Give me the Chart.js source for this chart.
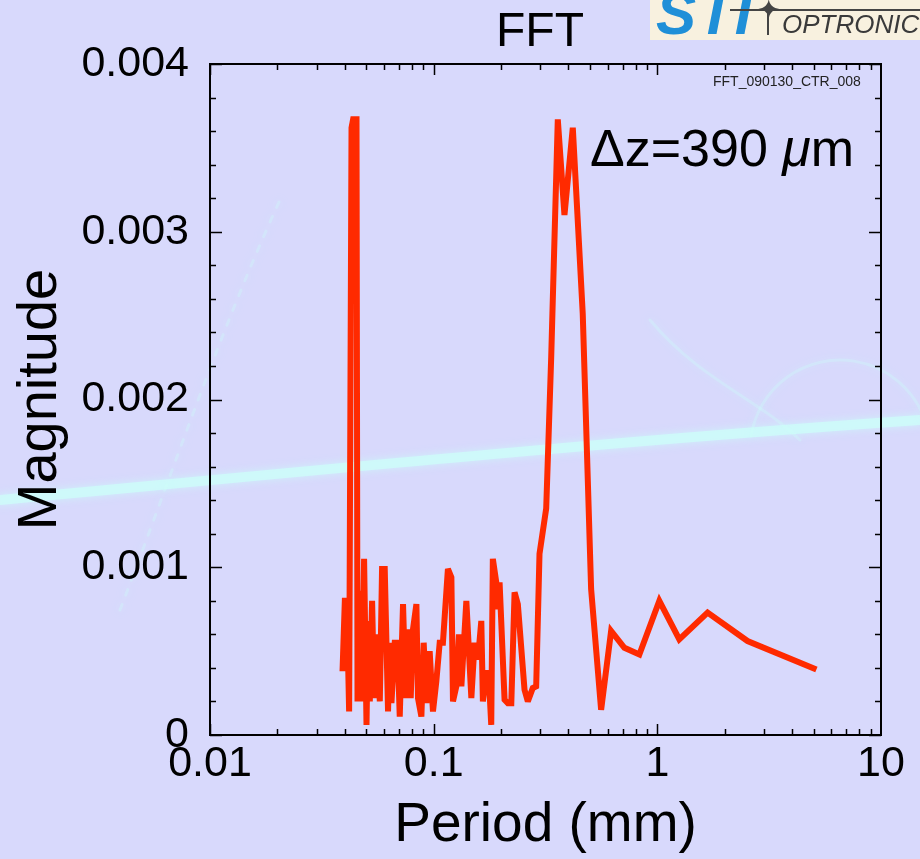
<!DOCTYPE html>
<html>
<head>
<meta charset="utf-8">
<script src="https://cdn.jsdelivr.net/npm/chart.js@4.4.1/dist/chart.umd.min.js"></script>
<style>
  html, body { margin: 0; padding: 0; background: #d8d9fc; overflow: hidden; }
  #wrap { position: relative; width: 920px; height: 859px; font-family: "Liberation Sans", Arial, Helvetica, sans-serif; }
  #chart { position: absolute; left: 0; top: 0; }
  .txt { position: absolute; white-space: nowrap; color: #000; }
  #title { left: 440px; width: 200px; text-align: center; top: 6px; font-size: 48px; line-height: 48px; }
  #dz { left: 590px; top: 122px; font-size: 52px; line-height: 52px; }
  #fname { left: 713px; top: 74px; font-size: 14px; line-height: 14px; color: #222; }
  #logo { position: absolute; left: 650px; top: 0; width: 270px; height: 40px; background: #f8f1df; overflow: hidden; }
  #logo .sti { position: absolute; left: 6px; top: -16px; font-size: 60px; line-height: 60px; font-weight: bold; font-style: italic; color: #1f8fd8; letter-spacing: 1px; }
  #logo .bar { position: absolute; left: 80px; top: 9px; width: 200px; height: 2px; background: #444; }
  #logo .stem { position: absolute; left: 117px; top: 10px; width: 2px; height: 25px; background: #444; }
  #logo .star { position: absolute; left: 107px; top: -4px; font-family: "DejaVu Sans", sans-serif; font-size: 28px; line-height: 28px; color: #444; }
  #logo .opt { position: absolute; left: 132px; top: 11px; font-size: 26px; line-height: 26px; font-style: italic; color: #3a3a3a; }
</style>
</head>
<body>
<div id="wrap">
  <canvas id="chart" width="920" height="859"></canvas>
  <div class="txt" id="title">FFT</div>
  <div class="txt" id="dz">Δz=390 <i>μ</i>m</div>
  <div class="txt" id="fname">FFT_090130_CTR_008</div>
  <div id="logo"><span class="sti">STI</span><span class="bar"></span><span class="stem"></span><span class="star">✦</span><span class="opt">OPTRONIC</span></div>
</div>
<script>
// period in mm, magnitude
const periods = [0.03913, 0.04007, 0.04090, 0.04188, 0.04293, 0.04364, 0.04519, 0.04566, 0.04675, 0.04773,
  0.04886, 0.05009, 0.05092, 0.05182, 0.05306, 0.05416, 0.05553, 0.05744, 0.05878, 0.06043,
  0.06252, 0.06363, 0.06475, 0.06698, 0.06886, 0.07052, 0.07295, 0.07499, 0.07679, 0.07895,
  0.08084, 0.08372, 0.08511, 0.08812, 0.09024, 0.09279, 0.09597, 0.09929, 0.1028, 0.1064,
  0.1100, 0.1158, 0.1200, 0.1220, 0.1263, 0.1297, 0.1330, 0.1400, 0.1474, 0.1524,
  0.1577, 0.1633, 0.1660, 0.1719, 0.1760, 0.1809, 0.1839, 0.1905, 0.1937, 0.1971,
  0.2075, 0.2147, 0.2224, 0.2300, 0.2379, 0.2548, 0.2636, 0.2775, 0.2873, 0.2973,
  0.3185, 0.3353, 0.3589, 0.3844, 0.4188, 0.4640, 0.5058, 0.5606, 0.6214, 0.7125,
  0.8311, 1.0207, 1.2536, 1.6777, 2.5310, 5.1428];
const magnitudes = [0.00038, 0.0008, 0.0008, 0.00014, 0.00362, 0.00367, 0.00367, 0.0002, 0.00086, 0.0002,
  0.00105, 0.00006, 0.00068, 0.0002, 0.0008, 0.00022, 0.0006, 0.0002, 0.00099, 0.00099,
  0.00014, 0.00055, 0.00019, 0.00055, 0.00055, 0.00011, 0.00078, 0.00022, 0.00063, 0.00022,
  0.00063, 0.00078, 0.00022, 0.00011, 0.00055, 0.00019, 0.0005, 0.00014, 0.00032, 0.00055,
  0.00055, 0.00099, 0.00094, 0.0002, 0.00029, 0.0006, 0.00029, 0.0008, 0.00022, 0.00055,
  0.00045, 0.00068, 0.0002, 0.00037, 0.00037, 0.00006, 0.00105, 0.00091, 0.00075, 0.00091,
  0.00021, 0.00019, 0.00019, 0.00085, 0.00078, 0.00027, 0.0002, 0.00028, 0.00029, 0.00108,
  0.00135, 0.00225, 0.00367, 0.0031, 0.00362, 0.00251, 0.00087, 0.00015, 0.00062, 0.00052,
  0.00048, 0.0008, 0.00057, 0.00073, 0.00056, 0.00039];
const xTicks = [0.01, 0.1, 1, 10];
const yTicks = [0, 0.001, 0.002, 0.003, 0.004];
const yMinorStep = 0.0002;

const FONT = '"Liberation Sans", Arial, Helvetica, sans-serif';

// faint cyan streaks of the photo behind the plot
const backdrop = {
  id: 'backdrop',
  beforeDraw(chart) {
    const ctx = chart.ctx;
    ctx.save();
    ctx.fillStyle = '#d8d9fc';
    ctx.fillRect(0, 0, chart.width, chart.height);
    ctx.lineCap = 'round';
    ctx.shadowColor = 'rgba(200,255,250,0.9)';
    ctx.shadowBlur = 8;
    ctx.strokeStyle = 'rgba(205,255,250,0.7)';
    ctx.lineWidth = 10;
    ctx.beginPath();
    ctx.moveTo(0, 500);
    ctx.bezierCurveTo(300, 472, 600, 442, 920, 420);
    ctx.stroke();
    ctx.lineWidth = 3;
    ctx.strokeStyle = 'rgba(205,255,250,0.3)';
    ctx.setLineDash([6, 10]);
    ctx.beginPath();
    ctx.moveTo(120, 610);
    ctx.bezierCurveTo(170, 480, 220, 330, 280, 200);
    ctx.stroke();
    ctx.setLineDash([]);
    ctx.beginPath();
    ctx.arc(840, 450, 90, Math.PI * 1.05, Math.PI * 1.9);
    ctx.stroke();
    ctx.beginPath();
    ctx.moveTo(650, 320);
    ctx.bezierCurveTo(700, 380, 760, 400, 800, 440);
    ctx.stroke();
    ctx.restore();
  }
};

// sharp but bounded corners on the trace
const joinLimit = {
  id: 'joinLimit',
  beforeDatasetsDraw(chart) { chart.ctx.miterLimit = 3; }
};

// closed frame with inward ticks on all four sides
const frameTicks = {
  id: 'frameTicks',
  afterDraw(chart) {
    const { ctx, chartArea: a, scales: { x, y } } = chart;
    ctx.save();
    ctx.strokeStyle = '#000';
    ctx.lineWidth = 2;
    ctx.strokeRect(a.left, a.top, a.right - a.left, a.bottom - a.top);
    ctx.lineWidth = 1.5;
    ctx.beginPath();
    const e0 = Math.round(Math.log10(x.min)), e1 = Math.round(Math.log10(x.max));
    for (let e = e0; e < e1; e++) {
      for (let m = 1; m < 10; m++) {
        const px = Math.round(x.getPixelForValue(m * Math.pow(10, e))) + 0.5;
        const len = m === 1 ? 11 : 6;
        ctx.moveTo(px, a.bottom); ctx.lineTo(px, a.bottom - len);
        ctx.moveTo(px, a.top); ctx.lineTo(px, a.top + len);
      }
    }
    const n = Math.round((y.max - y.min) / yMinorStep);
    for (let i = 0; i <= n; i++) {
      const py = Math.round(y.getPixelForValue(y.min + i * yMinorStep)) + 0.5;
      const len = i % 5 === 0 ? 12 : 6;
      ctx.moveTo(a.left, py); ctx.lineTo(a.left + len, py);
      ctx.moveTo(a.right, py); ctx.lineTo(a.right - len, py);
    }
    ctx.stroke();
    ctx.restore();
  }
};

new Chart(document.getElementById('chart'), {
  type: 'line',
  data: {
    datasets: [{
      data: periods.map((p, i) => ({ x: p, y: magnitudes[i] })),
      borderColor: '#ff2a00',
      borderWidth: 6,
      borderJoinStyle: 'miter',
      pointRadius: 0,
      tension: 0,
      fill: false
    }]
  },
  options: {
    responsive: false,
    animation: false,
    events: [],
    layout: { padding: { top: 64, right: 39, left: 0, bottom: 0 } },
    plugins: { legend: { display: false }, tooltip: { enabled: false }, title: { display: false } },
    scales: {
      x: {
        type: 'logarithmic',
        min: 0.01, max: 10,
        afterBuildTicks: s => { s.ticks = xTicks.map(v => ({ value: v })); },
        afterFit: s => { s.height = 124; },
        grid: { display: false, drawTicks: false },
        border: { display: false },
        ticks: {
          autoSkip: false, maxRotation: 0, padding: 3, color: '#000',
          font: { family: FONT, size: 43 },
          callback: v => String(v)
        },
        title: { display: true, text: 'Period (mm)', color: '#000', font: { family: FONT, size: 55 }, padding: { top: 0, bottom: 0 } }
      },
      y: {
        min: 0, max: 0.004,
        afterBuildTicks: s => { s.ticks = yTicks.map(v => ({ value: v })); },
        afterFit: s => { s.width = 210; },
        grid: { display: false, drawTicks: false },
        border: { display: false },
        ticks: {
          padding: 21, color: '#000',
          font: { family: FONT, size: 43 },
          callback: v => (v === 0 ? '0' : v.toFixed(3))
        },
        title: { display: true, text: 'Magnitude', color: '#000', font: { family: FONT, size: 56 }, padding: { top: 7, bottom: 0 } }
      }
    }
  },
  plugins: [backdrop, joinLimit, frameTicks]
});
</script>
</body>
</html>
